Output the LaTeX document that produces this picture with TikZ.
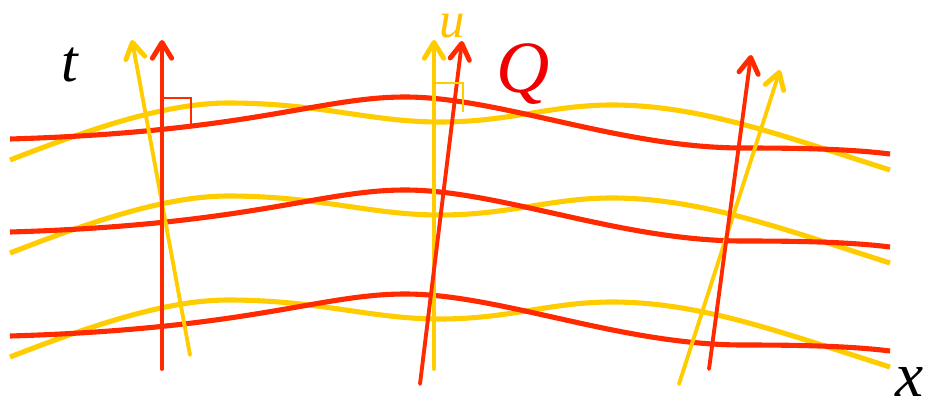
\documentclass[tikz,border=0pt]{standalone}
\usepackage{fontspec}
\setmainfont{Liberation Serif}
\newfontfamily\labfont{Liberation Serif}[UprightFont={* Italic}]
\usetikzlibrary{arrows.meta}
\definecolor{rline}{HTML}{FF2A00}
\definecolor{yline}{HTML}{FFCC00}
\definecolor{qred}{HTML}{F00000}
\definecolor{ulab}{HTML}{FFC000}
\tikzset{
  wave/.style={line width=2.9pt},
  redwave/.style={wave, draw=rline},
  yelwave/.style={wave, draw=yline},
  axisline/.style={line width=2.2pt, line cap=round, -{Straight Barb[length=9pt,width=11pt,line width=2.8pt,round]}},
  redaxis/.style={axisline, draw=rline},
  yelaxis/.style={axisline, draw=yline},
  rightmark/.style={line width=1.1pt},
  lab/.style={inner sep=0pt, anchor=base}
}
\begin{document}
\begin{tikzpicture}[x=0.02cm, y=-0.02cm]
\useasboundingbox (0,0) rectangle (935,402);
% waves (same profile, shifted down)
\foreach \dy in {0,93,197}{
  \begin{scope}[shift={(0,\dy)}]
  \draw[yelwave] (10,160) .. controls (100,125) and (170,103) .. (228,103)
     .. controls (320,103) and (370,122) .. (440,122)
     .. controls (510,122) and (550,105) .. (612,105)
     .. controls (700,105) and (780,135) .. (890,170);
  \draw[redwave] (10,139) .. controls (250,132) and (320,97) .. (405,97)
     .. controls (500,97) and (620,148) .. (743,148)
     .. controls (800,148) and (850,149) .. (890,154);
  \end{scope}
}
% axes endpoints
\coordinate (yl0) at (190,355); \coordinate (yl1) at (132,40);
\coordinate (rl0) at (162,369); \coordinate (rl1) at (162,40);
\coordinate (ym0) at (434,369); \coordinate (ym1) at (434,40);
\coordinate (rm0) at (420,384); \coordinate (rm1) at (462,41);
\coordinate (yr0) at (679,384); \coordinate (yr1) at (780,70);
\coordinate (rr0) at (709,369); \coordinate (rr1) at (751,55);
\draw[yelaxis] (yl0) -- (yl1);
\draw[redaxis] (rl0) -- (rl1);
\draw[yelaxis] (ym0) -- (ym1);
\draw[redaxis] (rm0) -- (rm1);
\draw[yelaxis] (yr0) -- (yr1);
\draw[redaxis] (rr0) -- (rr1);
% right-angle marks
\coordinate (ra1a) at (162,98); \coordinate (ra1b) at (191,98); \coordinate (ra1c) at (191,126);
\draw[rightmark, draw=rline] (ra1a) -- (ra1b) -- (ra1c);
\coordinate (ra2a) at (434,83); \coordinate (ra2b) at (463,83); \coordinate (ra2c) at (463,112);
\draw[rightmark, draw=yline] (ra2a) -- (ra2b) -- (ra2c);
% labels
\node[lab, font=\labfont\fontsize{34}{34}\selectfont] (t) at (70,82) {t};
\node[lab, font=\labfont\fontsize{29}{29}\selectfont, text=ulab] (u) at (452,38) {u};
\node[lab, font=\labfont\fontsize{42}{42}\selectfont, text=qred] (Q) at (523,92) {Q};
\node[lab, font=\labfont\fontsize{36}{36}\selectfont] (x) at (910,396) {x};
\end{tikzpicture}
\end{document}
